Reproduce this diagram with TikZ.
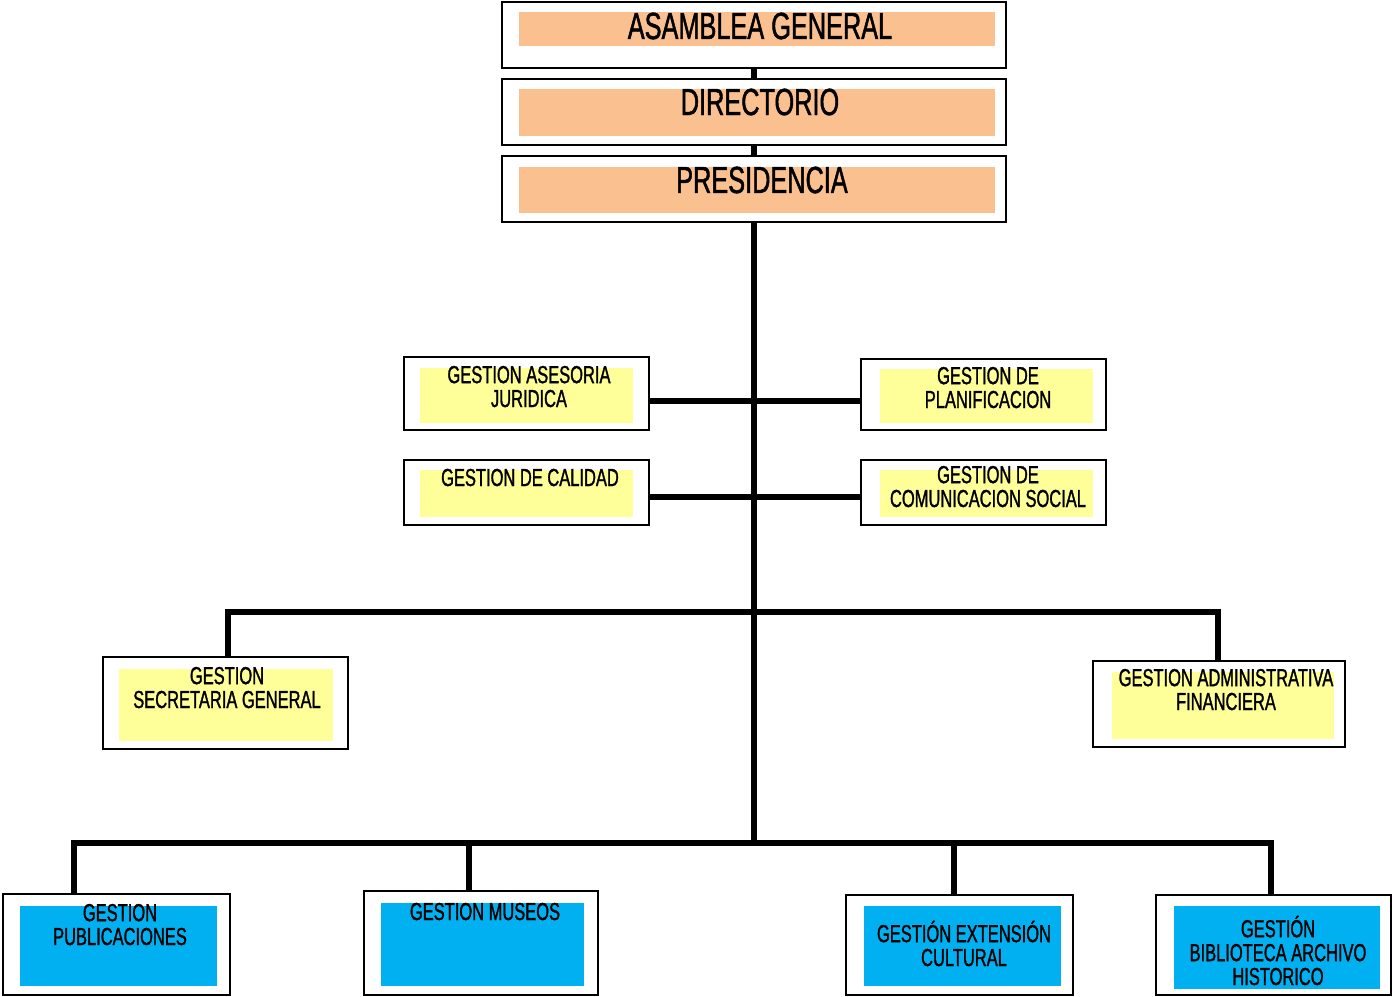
\documentclass[tikz,border=0pt]{standalone}
\usepackage{fontspec}
\usepackage{tikz}
\usetikzlibrary{calc}
\newfontfamily\orgfont[FakeStretch=0.67,FakeBold=1.2]{Liberation Sans}
\definecolor{orgorange}{RGB}{250,192,144}
\definecolor{orgyellow}{RGB}{255,255,153}
\definecolor{orgblue}{RGB}{0,176,240}

\begin{document}
\begin{tikzpicture}[x=0.02cm,y=-0.02cm]
  \tikzstyle{OrgBox}=[rectangle,draw=black,line width=1.2pt,fill=white,inner sep=0pt]
  \tikzstyle{OrgFill}=[rectangle,draw=none,inner sep=0pt]
  \tikzstyle{BigText}=[inner sep=0pt,anchor=base,font=\orgfont\fontsize{21.5}{20}\selectfont]
  \tikzstyle{SmallText}=[inner sep=0pt,anchor=base,align=center,font=\orgfont\fontsize{14}{13.6}\selectfont]
  \tikzstyle{OrgLine}=[line width=3.2pt]
  \useasboundingbox (0,0) rectangle (1393,997);

  % top
  \node[OrgBox, minimum width=10.08cm, minimum height=1.32cm] (asamblea) at (754,35) {};
  \node[OrgFill, fill=orgorange, minimum width=9.52cm, minimum height=0.68cm] (asamblea-in) at (757,29) {};
  \node[BigText] (asamblea-t) at (760,39) {ASAMBLEA GENERAL};

  \node[OrgBox, minimum width=10.08cm, minimum height=1.32cm] (directorio) at (754,112) {};
  \node[OrgFill, fill=orgorange, minimum width=9.52cm, minimum height=0.94cm] (directorio-in) at (757,112.5) {};
  \node[BigText] (directorio-t) at (760,115) {DIRECTORIO};

  \node[OrgBox, minimum width=10.08cm, minimum height=1.32cm] (presidencia) at (754,189) {};
  \node[OrgFill, fill=orgorange, minimum width=9.52cm, minimum height=0.92cm] (presidencia-in) at (757,190) {};
  \node[BigText] (presidencia-t) at (762,193) {PRESIDENCIA};

  % staff units
  \node[OrgBox, minimum width=4.9cm, minimum height=1.46cm] (asesoria) at (526.5,393.5) {};
  \node[OrgFill, fill=orgyellow, minimum width=4.26cm, minimum height=1.10cm] (asesoria-in) at (526.5,395.5) {};
  \node[SmallText] (asesoria-t) at (529,407) {GESTION ASESORIA\\JURIDICA};

  \node[OrgBox, minimum width=4.9cm, minimum height=1.42cm] (planificacion) at (983.5,394.5) {};
  \node[OrgFill, fill=orgyellow, minimum width=4.26cm, minimum height=1.08cm] (planificacion-in) at (986.5,396) {};
  \node[SmallText] (planificacion-t) at (988,408) {GESTION DE\\PLANIFICACION};

  \node[OrgBox, minimum width=4.9cm, minimum height=1.30cm] (calidad) at (526.5,492.5) {};
  \node[OrgFill, fill=orgyellow, minimum width=4.26cm, minimum height=0.94cm] (calidad-in) at (526.5,493.5) {};
  \node[SmallText] (calidad-t) at (530,486) {GESTION DE CALIDAD};

  \node[OrgBox, minimum width=4.9cm, minimum height=1.30cm] (comunicacion) at (983.5,492.5) {};
  \node[OrgFill, fill=orgyellow, minimum width=4.26cm, minimum height=0.94cm] (comunicacion-in) at (986.5,493.5) {};
  \node[SmallText] (comunicacion-t) at (988,507) {GESTION DE\\COMUNICACION SOCIAL};

  % support units
  \node[OrgBox, minimum width=4.9cm, minimum height=1.84cm] (secretaria) at (225.5,703) {};
  \node[OrgFill, fill=orgyellow, minimum width=4.28cm, minimum height=1.44cm] (secretaria-in) at (226,705) {};
  \node[SmallText] (secretaria-t) at (227,708) {GESTION\\SECRETARIA GENERAL};

  \node[OrgBox, minimum width=5.04cm, minimum height=1.72cm] (administrativa) at (1219,704) {};
  \node[OrgFill, fill=orgyellow, minimum width=4.44cm, minimum height=1.34cm] (administrativa-in) at (1223,705.5) {};
  \node[SmallText] (administrativa-t) at (1226,710) {GESTION ADMINISTRATIVA\\FINANCIERA};

  % operative units
  \node[OrgBox, minimum width=4.54cm, minimum height=2.02cm] (publicaciones) at (116.5,944.5) {};
  \node[OrgFill, fill=orgblue, minimum width=3.94cm, minimum height=1.60cm] (publicaciones-in) at (118.5,946) {};
  \node[SmallText] (publicaciones-t) at (120,945) {GESTION\\PUBLICACIONES};

  \node[OrgBox, minimum width=4.68cm, minimum height=2.08cm] (museos) at (481,943) {};
  \node[OrgFill, fill=orgblue, minimum width=4.06cm, minimum height=1.66cm] (museos-in) at (482.5,944.5) {};
  \node[SmallText] (museos-t) at (485,920) {GESTION MUSEOS};

  \node[OrgBox, minimum width=4.54cm, minimum height=2.0cm] (extension) at (959.5,945) {};
  \node[OrgFill, fill=orgblue, minimum width=3.94cm, minimum height=1.60cm] (extension-in) at (962.5,946) {};
  \node[SmallText] (extension-t) at (964,966) {GESTIÓN EXTENSIÓN\\CULTURAL};

  \node[OrgBox, minimum width=4.70cm, minimum height=2.0cm] (biblioteca) at (1273.5,945) {};
  \node[OrgFill, fill=orgblue, minimum width=4.12cm, minimum height=1.66cm] (biblioteca-in) at (1277,947.5) {};
  \node[SmallText] (biblioteca-t) at (1278,985) {GESTIÓN\\BIBLIOTECA ARCHIVO\\HISTORICO};

  % junctions on the trunk
  \coordinate (j1) at (754,401);
  \coordinate (j2) at (754,497);
  \coordinate (j3) at (754,612);
  \coordinate (j4) at (754,843);

  % edges
  \draw[OrgLine] (asamblea) -- (directorio);
  \draw[OrgLine] (directorio) -- (presidencia);
  \draw[OrgLine] (presidencia) -- (j4);
  \draw[OrgLine] (asesoria.east |- j1) -- (planificacion.west |- j1);
  \draw[OrgLine] (calidad.east |- j2) -- (comunicacion.west |- j2);
  \draw[OrgLine] ($(secretaria.north)+(2.5,0)$) -- ($(secretaria.north |- j3)+(2.5,0)$) -- ($(administrativa.north |- j3)+(-1,0)$) -- ($(administrativa.north)+(-1,0)$);
  \draw[OrgLine] ($(publicaciones.north west)+(72,0)$) -- ($(publicaciones.north west |- j4)+(72,0)$) -- ($(biblioteca.north |- j4)+(-2.5,0)$) -- ($(biblioteca.north)+(-2.5,0)$);
  \draw[OrgLine] ($(museos.north)+(-12,0)$) -- ($(museos.north |- j4)+(-12,0)$);
  \draw[OrgLine] ($(extension.north)+(-5.5,0)$) -- ($(extension.north |- j4)+(-5.5,0)$);

\end{tikzpicture}
\end{document}
